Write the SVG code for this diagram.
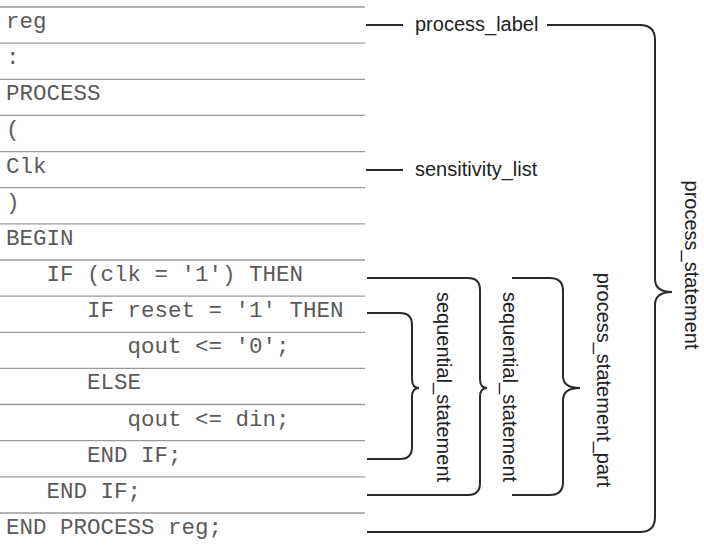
<svg xmlns="http://www.w3.org/2000/svg" width="704" height="547" viewBox="0 0 704 547">
<style>
.code{font-family:"Liberation Mono","Courier New",monospace;font-size:22.5px;fill:#5a5a5a}
.lbl{font-family:"Liberation Sans",Arial,sans-serif;font-size:20px;fill:#222}
.sep{stroke:#9a9a9a;stroke-width:1.3;fill:none}
.con{stroke:#2a2a2a;stroke-width:2;fill:none}
</style>
<rect width="704" height="547" fill="#fff"/>
<g id="rows">
<line class="sep" x1="0" y1="7" x2="365" y2="7"/>
<line class="sep" x1="0" y1="43.1" x2="365" y2="43.1"/>
<line class="sep" x1="0" y1="79.3" x2="365" y2="79.3"/>
<line class="sep" x1="0" y1="115.4" x2="365" y2="115.4"/>
<line class="sep" x1="0" y1="151.6" x2="365" y2="151.6"/>
<line class="sep" x1="0" y1="187.7" x2="365" y2="187.7"/>
<line class="sep" x1="0" y1="223.8" x2="365" y2="223.8"/>
<line class="sep" x1="0" y1="260" x2="365" y2="260"/>
<line class="sep" x1="0" y1="296.1" x2="365" y2="296.1"/>
<line class="sep" x1="0" y1="332.3" x2="365" y2="332.3"/>
<line class="sep" x1="0" y1="368.4" x2="365" y2="368.4"/>
<line class="sep" x1="0" y1="404.5" x2="365" y2="404.5"/>
<line class="sep" x1="0" y1="440.7" x2="365" y2="440.7"/>
<line class="sep" x1="0" y1="476.8" x2="365" y2="476.8"/>
<line class="sep" x1="0" y1="513" x2="365" y2="513"/>
</g>
<g id="code">
<text class="code" x="6" y="28">reg</text>
<text class="code" x="6" y="64.1">:</text>
<text class="code" x="6" y="100.3">PROCESS</text>
<text class="code" x="6" y="136.4">(</text>
<text class="code" x="6" y="172.6">Clk</text>
<text class="code" x="6" y="208.7">)</text>
<text class="code" x="6" y="244.8">BEGIN</text>
<text class="code" x="46.5" y="281">IF (clk = '1') THEN</text>
<text class="code" x="87" y="317.1">IF reset = '1' THEN</text>
<text class="code" x="127.5" y="353.3">qout &lt;= '0';</text>
<text class="code" x="87" y="389.4">ELSE</text>
<text class="code" x="127.5" y="425.5">qout &lt;= din;</text>
<text class="code" x="87" y="461.7">END IF;</text>
<text class="code" x="46.5" y="497.8">END IF;</text>
<text class="code" x="6" y="534">END PROCESS reg;</text>
</g>
<g id="connectors">
<line class="con" x1="366" y1="25" x2="403" y2="25"/>
<line class="con" x1="366" y1="170" x2="403" y2="170"/>
<path class="con" d="M547,25 H640 Q655,25 655,40 V279 Q655,292 672,292 Q655,292 655,305 V517 Q655,532 640,532 H367"/>
<path class="con" d="M512,278 H550 Q563,278 563,291 V376 Q563,388 580,388 Q563,388 563,400 V482 Q563,495 550,495 H512"/>
<path class="con" d="M367,278 H468 Q480,278 480,290 V379 Q480,388 487,388 Q480,388 480,397 V483 Q480,495 468,495 H367"/>
<path class="con" d="M367,313 H400 Q412,313 412,325 V379 Q412,388 419,388 Q412,388 412,397 V447 Q412,459 400,459 H367"/>
</g>
<g id="process_label"><text class="lbl" x="415" y="31">process_label</text></g>
<g id="sensitivity_list"><text class="lbl" x="415" y="176">sensitivity_list</text></g>
<g id="process_statement"><text class="lbl" text-anchor="middle" transform="translate(685,265) rotate(90)">process_statement</text></g>
<g id="process_statement_part"><text class="lbl" text-anchor="middle" transform="translate(597,380) rotate(90)">process_statement_part</text></g>
<g id="sequential_statement_outer"><text class="lbl" text-anchor="middle" transform="translate(503,387) rotate(90)">sequential_statement</text></g>
<g id="sequential_statement_inner"><text class="lbl" text-anchor="middle" transform="translate(437,387) rotate(90)">sequential_statement</text></g>
</svg>
